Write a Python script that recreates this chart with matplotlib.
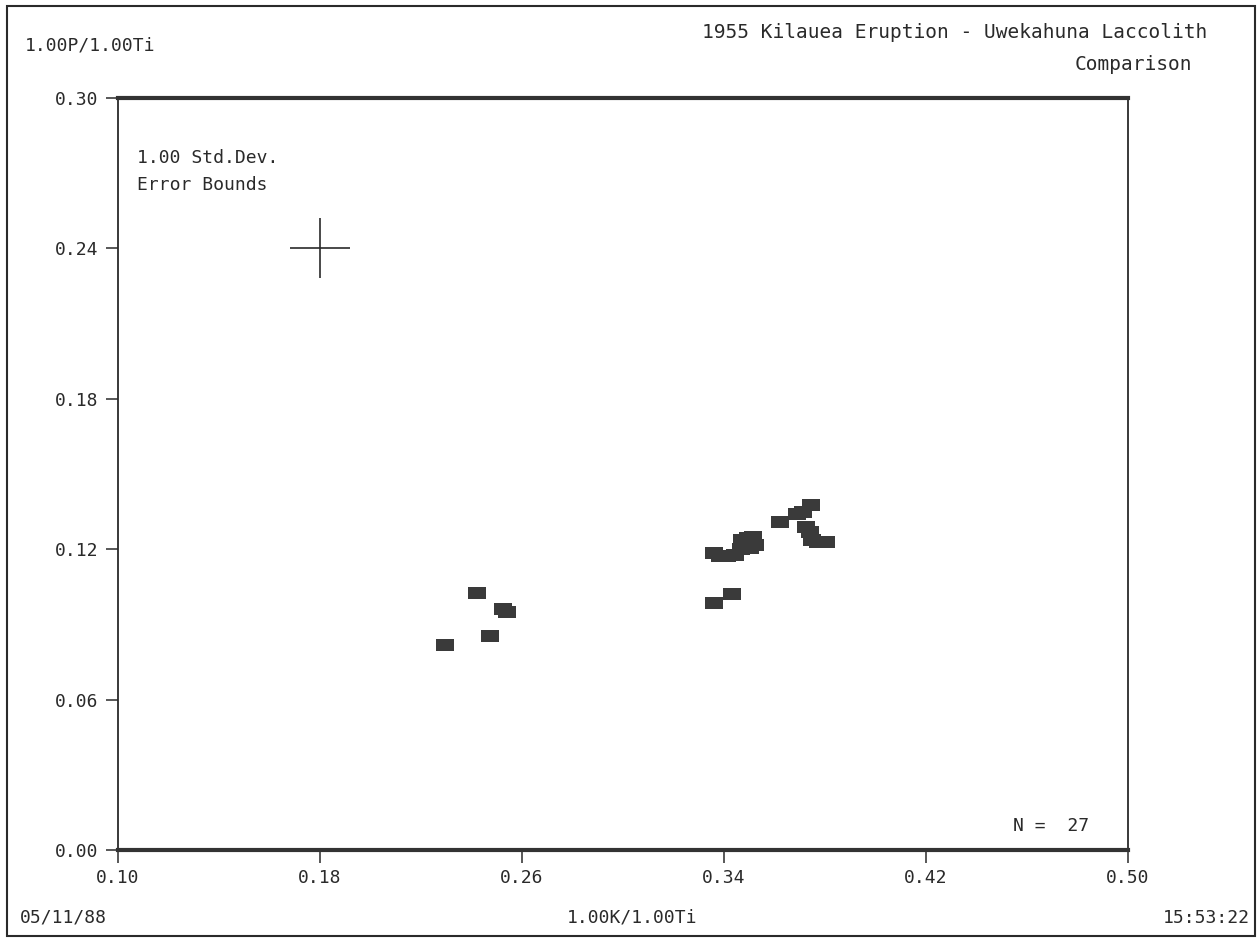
import numpy as np
import matplotlib.pyplot as plt
from matplotlib.patches import Rectangle

# 1955 Kilauea eruption samples: K/Ti vs P/Ti
k_ti = [0.2295, 0.2422, 0.2473, 0.2525, 0.2541,
        0.3360, 0.3432,
        0.3360, 0.3384, 0.3412, 0.3444, 0.3467, 0.3483, 0.3495, 0.3515,
        0.3523, 0.3503, 0.3622, 0.3689, 0.3713, 0.3745, 0.3725, 0.3741,
        0.3748, 0.3772, 0.3804, 0.3471]
p_ti = [0.0818, 0.1025, 0.0854, 0.0961, 0.0949,
        0.0985, 0.1021,
        0.1185, 0.1173, 0.1173, 0.1177, 0.1201, 0.1225, 0.1245, 0.1249,
        0.1217, 0.1205, 0.1308, 0.1340, 0.1348, 0.1376, 0.1288, 0.1268,
        0.1237, 0.1229, 0.1229, 0.1237]

# error bounds cross (1 std dev)
err_center = (0.18, 0.24)
err_x = 0.012
err_y = 0.012

x_ticks = [0.10, 0.18, 0.26, 0.34, 0.42, 0.50]
y_ticks = [0.00, 0.06, 0.12, 0.18, 0.24, 0.30]

mono = 'DejaVu Sans Mono'
ink = '#2a2a2a'

fig = plt.figure(figsize=(12.6, 9.42), dpi=100)
ax = fig.add_axes([118 / 1260, 92 / 942, 1010 / 1260, 752 / 942])

# rectangular blocky markers
box = [(-1.5, -1), (1.5, -1), (1.5, 1), (-1.5, 1), (-1.5, -1)]
ax.plot(k_ti, p_ti, linestyle='none', marker=box, markersize=12.5,
        color='#3a3a3a', markeredgewidth=0)

ax.errorbar([err_center[0]], [err_center[1]], xerr=err_x, yerr=err_y,
            fmt='none', ecolor=ink, elinewidth=1.2, capsize=0)

ax.set_xlim(0.10, 0.50)
ax.set_ylim(0.00, 0.30)
ax.set_xticks(x_ticks)
ax.set_yticks(y_ticks)
ax.set_xticklabels([f'{v:.2f}' for v in x_ticks], family=mono, fontsize=13)
ax.set_yticklabels([f'{v:.2f}' for v in y_ticks], family=mono, fontsize=13)
ax.tick_params(axis='both', direction='out', length=9, width=1.1, color=ink,
               labelcolor=ink, pad=5)

for side in ['left', 'right']:
    ax.spines[side].set_linewidth(1.3)
    ax.spines[side].set_color(ink)
for side in ['top', 'bottom']:
    ax.spines[side].set_linewidth(3)
    ax.spines[side].set_color('#333333')

ax.text(0.019, 0.920, '1.00 Std.Dev.', transform=ax.transAxes, family=mono,
        fontsize=13, color=ink, va='center')
ax.text(0.019, 0.884, 'Error Bounds', transform=ax.transAxes, family=mono,
        fontsize=13, color=ink, va='center')
ax.text(0.886, 0.032, 'N =  27', transform=ax.transAxes, family=mono,
        fontsize=13, color=ink, va='center')

# figure texts
fig.text(25 / 1260, 1 - 45 / 942, '1.00P/1.00Ti', family=mono, fontsize=13,
         color=ink, va='center')
fig.text(1207 / 1260, 1 - 32 / 942, '1955 Kilauea Eruption - Uwekahuna Laccolith',
         family=mono, fontsize=14, color=ink, va='center', ha='right')
fig.text(1192 / 1260, 1 - 65 / 942, 'Comparison', family=mono, fontsize=14,
         color=ink, va='center', ha='right')
fig.text(20 / 1260, 1 - 918 / 942, '05/11/88', family=mono, fontsize=13,
         color=ink, va='center')
fig.text(632 / 1260, 1 - 918 / 942, '1.00K/1.00Ti', family=mono, fontsize=13,
         color=ink, va='center', ha='center')
fig.text(1250 / 1260, 1 - 918 / 942, '15:53:22', family=mono, fontsize=13,
         color=ink, va='center', ha='right')

# outer frame
fig.patches.append(Rectangle((7 / 1260, 6 / 942), 1248 / 1260, 930 / 942,
                             transform=fig.transFigure, fill=False,
                             edgecolor=ink, linewidth=1.5))

fig.savefig('out.png', dpi=100)
